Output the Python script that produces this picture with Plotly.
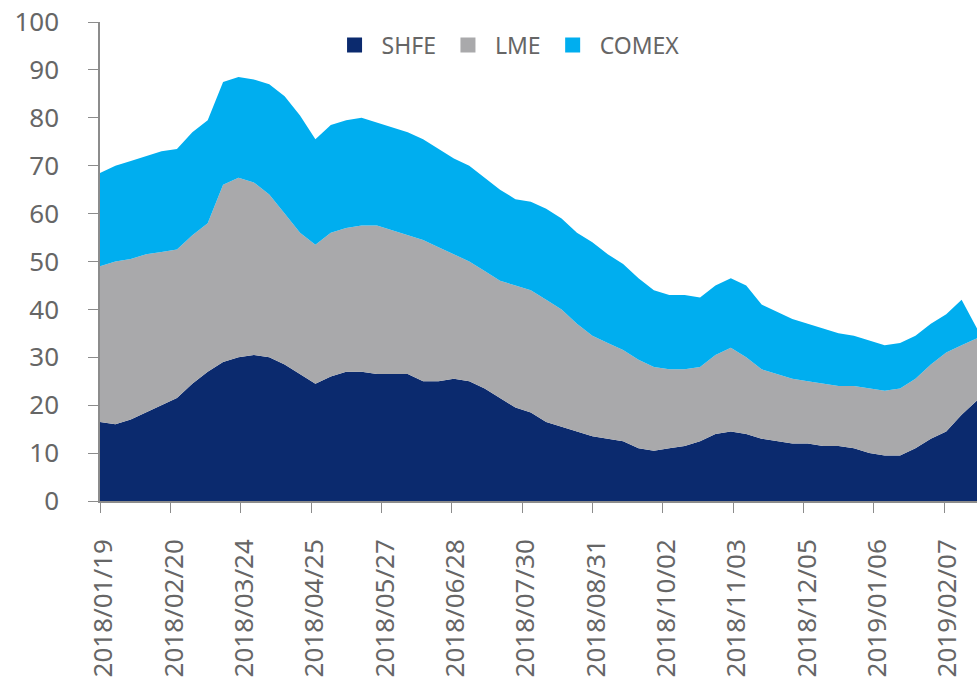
import pandas as pd
import plotly.graph_objects as go

# Weekly observation dates
dates = pd.date_range("2018-01-19", periods=58, freq="7D")

shfe = [16.5, 16, 17, 18.5, 20, 21.5, 24.5, 27, 29, 30, 30.5, 30, 28.5, 26.5, 24.5,
        26, 27, 27, 26.5, 26.5, 26.5, 25, 25, 25.5, 25, 23.5, 21.5, 19.5, 18.5, 16.5,
        15.5, 14.5, 13.5, 13, 12.5, 11, 10.5, 11, 11.5, 12.5, 14, 14.5, 14, 13,
        12.5, 12, 12, 11.5, 11.5, 11, 10, 9.5, 9.5, 11, 13, 14.5, 18, 21]
lme = [32.5, 34, 33.5, 33, 32, 31, 31, 31, 37, 37.5, 36, 34, 31.5, 29.5, 29,
       30, 30, 30.5, 31, 30, 29, 29.5, 28, 26, 25, 24.5, 24.5, 25.5, 25.5, 25.5,
       24.5, 22.5, 21, 20, 19, 18.5, 17.5, 16.5, 16, 15.5, 16.5, 17.5, 16, 14.5,
       14, 13.5, 13, 13, 12.5, 13, 13.5, 13.5, 14, 14.5, 15.5, 16.5, 14.5, 13]
comex = [19.5, 20, 20.5, 20.5, 21, 21, 21.5, 21.5, 21.5, 21, 21.5, 23, 24.5, 24.5, 22,
         22.5, 22.5, 22.5, 21.5, 21.5, 21.5, 21, 20.5, 20, 20, 19.5, 19, 18, 18.5, 19,
         19, 19, 19.5, 18.5, 18, 17, 16, 15.5, 15.5, 14.5, 14.5, 14.5, 15, 13.5,
         13, 12.5, 12, 11.5, 11, 10.5, 10, 9.5, 9.5, 9, 8.5, 8, 9.5, 2]

tick_dates = ["2018-01-19", "2018-02-20", "2018-03-24", "2018-04-25", "2018-05-27",
              "2018-06-28", "2018-07-30", "2018-08-31", "2018-10-02", "2018-11-03",
              "2018-12-05", "2019-01-06", "2019-02-07"]
tick_labels = [d.replace("-", "/") for d in tick_dates]

series = [("SHFE", shfe, "#0b2a6e"), ("LME", lme, "#a9a9ab"), ("COMEX", comex, "#00aeef")]

fig = go.Figure()
for name, vals, col in series:
    fig.add_trace(go.Scatter(
        x=dates, y=vals, name=name, stackgroup="one", mode="lines",
        line=dict(width=0, color=col), fillcolor=col, showlegend=False,
        hoverinfo="x+y+name"))
for name, vals, col in series:
    fig.add_trace(go.Scatter(
        x=[None], y=[None], name=name, mode="markers",
        marker=dict(symbol="square", size=15, color=col), showlegend=True))

font_col = "#666666"
fig.update_layout(
    width=977, height=684,
    margin=dict(l=100, r=0, t=22, b=183),
    paper_bgcolor="white", plot_bgcolor="white",
    font=dict(family="Noto Sans", size=26, color=font_col),
    legend=dict(orientation="h", x=0.463, xanchor="center", y=0.952, yanchor="middle",
                traceorder="normal",
                font=dict(size=23, color=font_col), itemwidth=44,
                bgcolor="rgba(0,0,0,0)"),
    showlegend=True,
)
fig.update_xaxes(
    type="date", range=[dates[0], dates[-1]],
    tickmode="array", tickvals=tick_dates, ticktext=tick_labels,
    tickangle=-90, ticks="outside", ticklen=10, tickcolor="#8c8c8c",
    showline=True, linecolor="#8c8c8c", linewidth=1.5,
    showgrid=False, zeroline=False, ticklabelstandoff=16, ticklabelshift=4,
    tickfont=dict(size=26, color=font_col),
)
fig.update_yaxes(
    range=[0, 100], dtick=10, ticks="outside", ticklen=10, tickcolor="#8c8c8c",
    showline=True, linecolor="#8c8c8c", linewidth=1.5,
    showgrid=False, zeroline=False, ticklabelstandoff=24,
    tickfont=dict(size=26, color=font_col),
)

fig.write_html("out.html")
